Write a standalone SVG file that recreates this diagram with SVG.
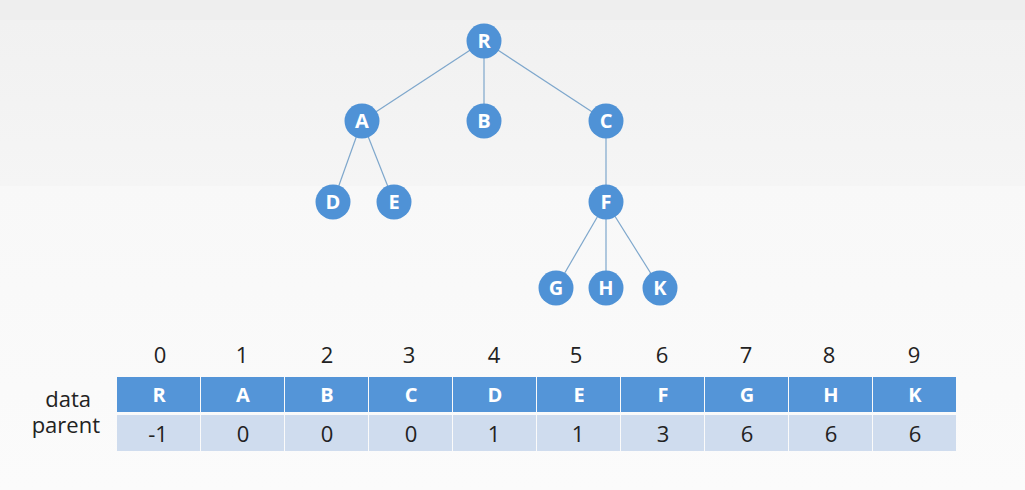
<svg xmlns="http://www.w3.org/2000/svg" width="1025" height="490" viewBox="0 0 1025 490">
<defs>
<linearGradient id="bgTop" x1="0" y1="0" x2="0" y2="1">
<stop offset="0" stop-color="#f1f1f1"/><stop offset="1" stop-color="#f5f5f5"/>
</linearGradient>
<linearGradient id="bgBot" x1="0" y1="0" x2="0" y2="1">
<stop offset="0" stop-color="#f8f8f8"/><stop offset="1" stop-color="#fbfbfb"/>
</linearGradient>
</defs>
<style>
.node circle{fill:#4f92d6;}
.node text{fill:#fff;font-family:"Open Sans","Noto Sans",sans-serif;font-weight:bold;font-size:20px;text-anchor:middle;}
.edge{stroke:#7ea7cc;stroke-width:1.2;fill:none;}
.idx{fill:#222;font-family:"Open Sans","Noto Sans",sans-serif;font-size:22px;text-anchor:middle;}
.dcell{fill:#5495d8;}
.pcell{fill:#cfdcee;}
.dtext{fill:#fff;font-family:"Open Sans","Noto Sans",sans-serif;font-weight:bold;font-size:20px;text-anchor:middle;}
.ptext{fill:#222;font-family:"Open Sans","Noto Sans",sans-serif;font-size:22px;text-anchor:middle;}
.lbl{fill:#222;font-family:"Open Sans","Noto Sans",sans-serif;font-size:22px;text-anchor:end;}
</style>
<rect x="0" y="0" width="1025" height="20" fill="#eeeeee"/>
<rect x="0" y="20" width="1025" height="166" fill="url(#bgTop)"/>
<rect x="0" y="186" width="1025" height="304" fill="url(#bgBot)"/>
<g id="connectors">
<line class="edge" x1="484" y1="41" x2="362" y2="121"/>
<line class="edge" x1="484" y1="41" x2="484" y2="121"/>
<line class="edge" x1="484" y1="41" x2="606" y2="121"/>
<line class="edge" x1="362" y1="121" x2="333" y2="202"/>
<line class="edge" x1="362" y1="121" x2="394" y2="202"/>
<line class="edge" x1="606" y1="121" x2="606" y2="202"/>
<line class="edge" x1="606" y1="202" x2="556" y2="288"/>
<line class="edge" x1="606" y1="202" x2="606" y2="288"/>
<line class="edge" x1="606" y1="202" x2="660" y2="288"/>
</g>
<g id="node-R" class="node"><circle cx="484" cy="41" r="17.5"/><text x="484" y="48">R</text></g>
<g id="node-A" class="node"><circle cx="362" cy="121" r="17.5"/><text x="362" y="128">A</text></g>
<g id="node-B" class="node"><circle cx="484" cy="121" r="17.5"/><text x="484" y="128">B</text></g>
<g id="node-C" class="node"><circle cx="606" cy="121" r="17.5"/><text x="606" y="128">C</text></g>
<g id="node-D" class="node"><circle cx="333" cy="202" r="17.5"/><text x="333" y="209">D</text></g>
<g id="node-E" class="node"><circle cx="394" cy="202" r="17.5"/><text x="394" y="209">E</text></g>
<g id="node-F" class="node"><circle cx="606" cy="202" r="17.5"/><text x="606" y="209">F</text></g>
<g id="node-G" class="node"><circle cx="556" cy="288" r="17.5"/><text x="556" y="295">G</text></g>
<g id="node-H" class="node"><circle cx="606" cy="288" r="17.5"/><text x="606" y="295">H</text></g>
<g id="node-K" class="node"><circle cx="660" cy="288" r="17.5"/><text x="660" y="295">K</text></g>
<g id="table">
<text class="lbl" x="91" y="407">data</text>
<text class="lbl" x="100" y="433">parent</text>
<g id="indices">
<text class="idx" x="160" y="363">0</text>
<text class="idx" x="242" y="363">1</text>
<text class="idx" x="327" y="363">2</text>
<text class="idx" x="409" y="363">3</text>
<text class="idx" x="494" y="363">4</text>
<text class="idx" x="576" y="363">5</text>
<text class="idx" x="662" y="363">6</text>
<text class="idx" x="746" y="363">7</text>
<text class="idx" x="829" y="363">8</text>
<text class="idx" x="914" y="363">9</text>
</g>
<g id="data-row">
<rect class="dcell" x="117" y="377" width="83" height="35"/>
<rect class="dcell" x="201" y="377" width="83" height="35"/>
<rect class="dcell" x="285" y="377" width="83" height="35"/>
<rect class="dcell" x="369" y="377" width="83" height="35"/>
<rect class="dcell" x="453" y="377" width="83" height="35"/>
<rect class="dcell" x="537" y="377" width="83" height="35"/>
<rect class="dcell" x="621" y="377" width="83" height="35"/>
<rect class="dcell" x="705" y="377" width="83" height="35"/>
<rect class="dcell" x="789" y="377" width="83" height="35"/>
<rect class="dcell" x="873" y="377" width="83" height="35"/>
<text class="dtext" x="159" y="402">R</text>
<text class="dtext" x="243" y="402">A</text>
<text class="dtext" x="327" y="402">B</text>
<text class="dtext" x="411" y="402">C</text>
<text class="dtext" x="495" y="402">D</text>
<text class="dtext" x="579" y="402">E</text>
<text class="dtext" x="663" y="402">F</text>
<text class="dtext" x="747" y="402">G</text>
<text class="dtext" x="831" y="402">H</text>
<text class="dtext" x="915" y="402">K</text>
</g>
<g id="parent-row">
<rect class="pcell" x="117" y="415" width="83" height="36"/>
<rect class="pcell" x="201" y="415" width="83" height="36"/>
<rect class="pcell" x="285" y="415" width="83" height="36"/>
<rect class="pcell" x="369" y="415" width="83" height="36"/>
<rect class="pcell" x="453" y="415" width="83" height="36"/>
<rect class="pcell" x="537" y="415" width="83" height="36"/>
<rect class="pcell" x="621" y="415" width="83" height="36"/>
<rect class="pcell" x="705" y="415" width="83" height="36"/>
<rect class="pcell" x="789" y="415" width="83" height="36"/>
<rect class="pcell" x="873" y="415" width="83" height="36"/>
<text class="ptext" x="158" y="442">-1</text>
<text class="ptext" x="243" y="442">0</text>
<text class="ptext" x="327" y="442">0</text>
<text class="ptext" x="411" y="442">0</text>
<text class="ptext" x="494" y="442">1</text>
<text class="ptext" x="578" y="442">1</text>
<text class="ptext" x="663" y="442">3</text>
<text class="ptext" x="747" y="442">6</text>
<text class="ptext" x="831" y="442">6</text>
<text class="ptext" x="915" y="442">6</text>
</g>
</g>
</svg>
